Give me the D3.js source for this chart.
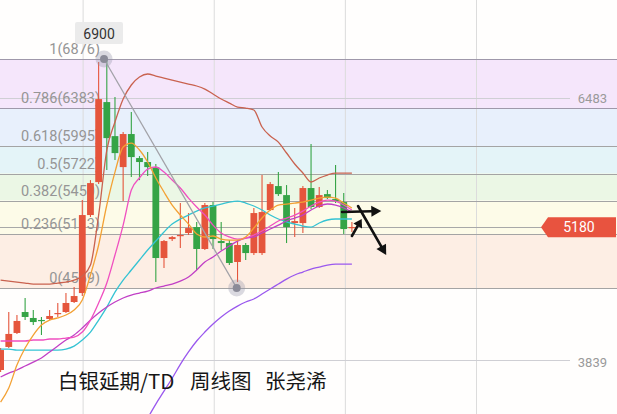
<!DOCTYPE html>
<html><head><meta charset="utf-8">
<script src="https://cdn.jsdelivr.net/npm/d3@7"></script>
<style>html,body{margin:0;padding:0;background:#fff;overflow:hidden}svg{display:block}</style>
</head><body>
<svg id="c" width="617" height="414"></svg>
<script>
// ---- data (prices, weekly candles) ----
const open  = [3743,3975,4116,4327,4267,4247,4257,4307,4327,4428,4518,5304,5636,6442,6099,5787,6120,5878,5838,5787,4871,5062,5093,5123,5183,4962,5405,5042,5022,4831,5002,4921,4921,5354,5596,5505,5223,5223,5576,5385,5515,5465,5435,5173];
const close = [3944,4106,4237,4277,4226,4237,4287,4317,4418,4488,5304,5626,6472,6079,5928,6120,5888,5838,5787,4871,5042,5082,5103,5173,4962,5405,5062,5022,4821,5002,4921,5324,5334,5616,5515,5183,5243,5576,5385,5505,5475,5445,5163,5183];
const high  = [3965,4327,4297,4468,4347,4277,4347,4418,4518,4579,5455,5656,6845,6876,6492,6140,6341,5898,5938,5817,5052,5092,5425,5324,5233,5425,5435,5233,5052,5052,5022,5374,5707,5636,5737,5606,5374,5596,6019,5586,5556,5807,5526,5233];
const low   = [3723,3965,4106,4247,4196,4096,4247,4277,4317,4418,4488,5284,5616,5758,5858,5445,5687,5656,5697,4629,4770,5042,4972,5103,4750,4952,4962,4952,4801,4629,4851,4901,4901,5344,5495,5022,5082,5123,5365,5375,5465,5425,5113,5133];

const ma5   = [3420,3561,3793,3964,4095,4196,4246,4267,4297,4347,4448,4700,5002,5405,5737,5989,6029,5959,5838,5677,5536,5405,5304,5213,5113,5083,5093,5062,5052,5052,5083,5173,5274,5355,5405,5415,5425,5435,5455,5475,5485,5475,5425,5375];
const ma10  = [4035,4035,4035,4035,4045,4045,4055,4055,4065,4075,4125,4246,4418,4619,4901,5203,5556,5677,5767,5788,5737,5657,5576,5475,5385,5304,5203,5123,5083,5062,5072,5103,5143,5193,5244,5274,5304,5344,5395,5435,5455,5445,5405,5355];
const ma20  = [3672,3712,3743,3783,3823,3864,3924,3984,4045,4095,4166,4246,4317,4377,4428,4468,4498,4518,4538,4569,4589,4609,4639,4680,4750,4831,4881,4941,4992,5042,5072,5083,5123,5163,5203,5244,5274,5304,5355,5395,5415,5405,5375,5334];
const ma60  = [3954,3954,3944,3944,3944,3944,3944,3944,3954,3984,4045,4125,4246,4377,4528,4649,4750,4851,4952,5042,5133,5213,5264,5304,5344,5375,5395,5415,5435,5445,5425,5395,5355,5304,5264,5234,5213,5193,5183,5224,5254,5264,5264,5264];
const upper = [4649,4639,4629,4619,4609,4609,4609,4619,4629,4649,4690,4800,5304,5959,6241,6473,6614,6694,6725,6704,6684,6664,6644,6624,6604,6573,6523,6473,6432,6392,6382,6362,6191,6100,6039,5929,5818,5727,5637,5677,5707,5727,5727,5727];
const lower = [null,null,null,null,null,null,null,null,null,null,null,null,null,null,null,null,null,3150,3260,3400,3530,3660,3800,3925,4035,4125,4206,4277,4337,4387,4428,4458,4508,4559,4609,4659,4700,4730,4760,4780,4800,4810,4810,4810];

const fibPrices = [6876,6383,5995,5722,5450,5113,4569];
const fibLabels = ["1(6876)","0.786(6383)","0.618(5995)","0.5(5722)","0.382(5450)","0.236(5113)","0(4569)"];
const axisPrices = [6483,3839];
const lastPrice = 5180;
const topLabel = "6900";
const gridIdx = [10.1, 26.15, 42.2, 58.25];
const titleParts = ["白银延期/TD","周线图","张尧浠"];

// ---- scales ----
const W = 617, H = 414;
const svg = d3.select("#c");
const x = d3.scaleLinear().domain([0, 43]).range([0.6, 351.9]);
const y = d3.scaleLinear().domain([4569, 6876]).range([288, 59]);

// background bands between fib levels
const bandColors = ["#f5e6fb","#e8f0fc","#e4f4f8","#ebf7e5","#fdfbe8","#fdeee4"];
svg.append("rect").attr("width",W).attr("height",H).attr("fill","#fffefd");
for (let k=0;k<fibPrices.length-1;k++){
  svg.append("rect").attr("x",0).attr("width",W)
    .attr("y",y(fibPrices[k])).attr("height",y(fibPrices[k+1])-y(fibPrices[k]))
    .attr("fill",bandColors[k]);
}
// vertical grid
svg.selectAll("line.vg").data(gridIdx).enter().append("line")
  .attr("x1",d=>x(d)).attr("x2",d=>x(d)).attr("y1",0).attr("y2",H)
  .attr("stroke","#dcdcdc").attr("stroke-width",1);
// axis price lines
svg.selectAll("line.ap").data(axisPrices).enter().append("line")
  .attr("x1",0).attr("x2",570).attr("y1",d=>Math.round(y(d))+0.5).attr("y2",d=>Math.round(y(d))+0.5)
  .attr("stroke","#cfcfd4").attr("stroke-width",1);
// fib lines
svg.selectAll("line.fib").data(fibPrices).enter().append("line")
  .attr("x1",0).attr("x2",W).attr("y1",d=>Math.round(y(d))+0.5).attr("y2",d=>Math.round(y(d))+0.5)
  .attr("stroke",(d,i)=> i<2 ? "#9f98aa" : "#a4a4a4").attr("stroke-width",1);
// last price line
svg.append("line").attr("x1",0).attr("x2",545)
  .attr("y1",Math.round(y(lastPrice))+0.5).attr("y2",Math.round(y(lastPrice))+0.5)
  .attr("stroke","#a8a8a8").attr("stroke-width",1);
// fib labels
svg.selectAll("text.fl").data(fibPrices).enter().append("text")
  .attr("x",100).attr("y",d=>y(d)-5).attr("text-anchor","end")
  .attr("font-family","Roboto, 'Noto Sans', sans-serif").attr("font-size",14.5)
  .attr("fill","#959595").text((d,i)=>fibLabels[i]);

// candles
const idx = d3.range(open.length);
const up = i => close[i] >= open[i];
const cRed = "#e5553c", cGreen = "#35a446";
const bw = 6.8;
const g = svg.append("g");
g.selectAll("line.wick").data(idx).enter().append("line")
  .attr("x1",i=>x(i)).attr("x2",i=>x(i)).attr("y1",i=>y(high[i])).attr("y2",i=>y(low[i]))
  .attr("stroke",i=>up(i)?cRed:cGreen).attr("stroke-width",1.1);
g.selectAll("rect.body").data(idx).enter().append("rect")
  .attr("x",i=>x(i)-bw/2).attr("width",bw)
  .attr("y",i=>y(Math.max(open[i],close[i])))
  .attr("height",i=>Math.max(1.2, Math.abs(y(open[i])-y(close[i]))))
  .attr("fill",i=>up(i)?cRed:cGreen);

// indicator lines
const mk = arr => d3.line().defined(i=>arr[i]!=null).x(i=>x(i)).y(i=>y(arr[i])).curve(d3.curveMonotoneX);
const series = [
  [upper,"#c9624f"],[lower,"#9a58ee"],[ma60,"#35c3d3"],[ma20,"#c13fc6"],[ma10,"#f04fc0"],[ma5,"#f3a134"]
];
series.forEach(([arr,col])=>{
  svg.append("path").attr("d",mk(arr)(idx)).attr("fill","none")
    .attr("stroke",col).attr("stroke-width",1.3);
});

// fib diagonal + markers
const hiI = 12.66, loI = 28.9;
svg.append("line").attr("x1",x(hiI)).attr("y1",y(fibPrices[0])).attr("x2",x(loI)).attr("y2",y(fibPrices[6]))
  .attr("stroke","#a2a2a8").attr("stroke-width",1.3);
[[hiI,fibPrices[0]],[loI,fibPrices[6]]].forEach(([i,p])=>{
  svg.append("circle").attr("cx",x(i)).attr("cy",y(p)).attr("r",8.5).attr("fill","rgba(150,150,170,0.35)");
  svg.append("circle").attr("cx",x(i)).attr("cy",y(p)).attr("r",4).attr("fill","#8b8b98");
});

// 6900 top label box
const bx = x(hiI)-5;
svg.append("rect").attr("x",bx-24).attr("y",22).attr("width",48).attr("height",22).attr("rx",2)
  .attr("fill","#ebebeb");
svg.append("text").attr("x",bx).attr("y",38.5).attr("text-anchor","middle")
  .attr("font-family","Roboto, 'Noto Sans', sans-serif").attr("font-size",14).attr("fill","#333")
  .text(topLabel);

// right axis labels
svg.selectAll("text.ax").data(axisPrices).enter().append("text")
  .attr("x",607).attr("y",(d,i)=>y(d)+(i?6.5:4.5)).attr("text-anchor","end")
  .attr("font-family","Roboto, 'Noto Sans', sans-serif").attr("font-size",13).attr("fill","#9a9a9a")
  .text(d=>d);

// last price tag
const ty = y(lastPrice);
svg.append("path").attr("d",`M541,${ty} L548,${ty-10} L616,${ty-10} L616,${ty+10} L548,${ty+10} Z`)
  .attr("fill","#e8533f");
svg.append("text").attr("x",579).attr("y",ty+5).attr("text-anchor","middle")
  .attr("font-family","Roboto, 'Noto Sans', sans-serif").attr("font-size",14).attr("fill","#fff")
  .text(lastPrice);

// hand drawn arrows (in data coordinates)
const arrows = [
  [[41.8,5334],[46.6,5344]],
  [[43.75,5395],[47.2,4901]],
  [[43.0,5093],[44.2,5264]]
];
arrows.forEach(([a,b],k)=>{
  const x1=x(a[0]),y1=y(a[1]),x2=x(b[0]),y2=y(b[1]);
  const ang=Math.atan2(y2-y1,x2-x1);
  const L = k===2?8:10, Wd = k===2?5:5.5;
  const bxp=x2-L*Math.cos(ang), byp=y2-L*Math.sin(ang);
  svg.append("line").attr("x1",x1).attr("y1",y1).attr("x2",bxp).attr("y2",byp)
    .attr("stroke","#111").attr("stroke-width",2.6).attr("stroke-linecap","round");
  const px=-Math.sin(ang), py=Math.cos(ang);
  svg.append("path").attr("d",`M${x2},${y2} L${bxp+px*Wd},${byp+py*Wd} L${bxp-px*Wd},${byp-py*Wd} Z`)
    .attr("fill","#111");
});

// title
const tx = [58,190,265];
titleParts.forEach((t,i)=>{
  svg.append("text").attr("x",tx[i]).attr("y",389)
    .attr("font-family","'Noto Sans CJK SC', sans-serif").attr("font-size",20.5).attr("fill","#161616")
    .text(t);
});
</script>
</body></html>
